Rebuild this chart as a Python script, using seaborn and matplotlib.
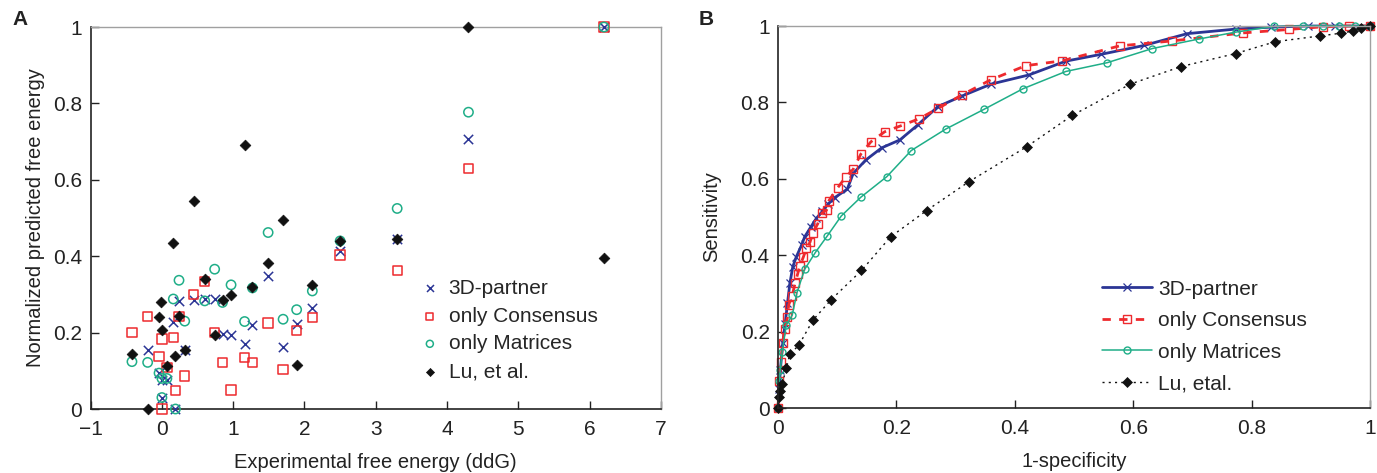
import matplotlib
matplotlib.use("Agg")
import matplotlib.pyplot as plt
import seaborn as sns
import pandas as pd

# ---- panel A: experimental vs normalized predicted free energy ----
partner_x = [-0.2, -0.04, 0.0, 0.0, 0.07, 0.15, 0.19, 0.24, 0.32, 0.45, 0.6, 0.74, 0.85, 0.97,
             1.16, 1.27, 1.49, 1.7, 1.89, 2.11, 2.5, 3.3, 4.3, 6.2]
partner_y = [0.154, 0.094, 0.075, 0.03, 0.075, 0.228, 0.0, 0.282, 0.154, 0.286, 0.287, 0.287, 0.196, 0.194,
             0.171, 0.22, 0.349, 0.163, 0.222, 0.264, 0.414, 0.444, 0.706, 1.0]

consensus_x = [-0.42, -0.2, -0.04, 0.0, 0.0, 0.07, 0.16, 0.19, 0.24, 0.32, 0.44, 0.6, 0.74, 0.85, 0.97,
               1.16, 1.27, 1.49, 1.7, 1.89, 2.11, 2.5, 3.3, 4.3, 6.2]
consensus_y = [0.2, 0.243, 0.138, 0.183, 0.0, 0.108, 0.187, 0.048, 0.243, 0.086, 0.3, 0.333, 0.2, 0.122, 0.05,
               0.134, 0.122, 0.225, 0.103, 0.206, 0.24, 0.403, 0.363, 0.629, 1.0]

matrices_x = [-0.42, -0.2, -0.04, 0.0, 0.0, 0.07, 0.16, 0.19, 0.24, 0.32, 0.6, 0.74, 0.85, 0.97,
              1.16, 1.27, 1.49, 1.7, 1.89, 2.11, 2.5, 3.3, 4.3, 6.2]
matrices_y = [0.124, 0.122, 0.094, 0.08, 0.03, 0.08, 0.288, 0.0, 0.337, 0.23, 0.283, 0.366, 0.279, 0.325,
              0.229, 0.317, 0.462, 0.235, 0.26, 0.309, 0.44, 0.525, 0.777, 1.0]

lu_x = [-0.42, -0.2, -0.04, -0.01, 0.0, 0.07, 0.16, 0.19, 0.24, 0.32, 0.45, 0.6, 0.74, 0.85, 0.97,
        1.16, 1.27, 1.49, 1.7, 1.89, 2.11, 2.5, 3.3, 4.3, 6.2]
lu_y = [0.143, 0.0, 0.24, 0.28, 0.208, 0.112, 0.435, 0.138, 0.243, 0.154, 0.545, 0.34, 0.195, 0.285, 0.298,
        0.692, 0.32, 0.383, 0.495, 0.115, 0.324, 0.44, 0.444, 1.0, 0.394]

# ---- panel B: ROC curves ----
roc_partner_x = [0, 0.002, 0.004, 0.008, 0.012, 0.016, 0.02, 0.025, 0.031, 0.04, 0.045, 0.055, 0.065,
                 0.075, 0.085, 0.096, 0.117, 0.127, 0.148, 0.175, 0.206, 0.236, 0.27, 0.311, 0.36,
                 0.424, 0.486, 0.546, 0.618, 0.691, 0.773, 0.833, 0.895, 0.94, 1.0]
roc_partner_y = [0, 0.05, 0.1, 0.17, 0.22, 0.274, 0.326, 0.37, 0.396, 0.427, 0.448, 0.473, 0.497,
                 0.515, 0.535, 0.551, 0.573, 0.614, 0.649, 0.681, 0.702, 0.741, 0.789, 0.817, 0.848,
                 0.872, 0.908, 0.926, 0.949, 0.98, 0.992, 0.997, 1.0, 1.0, 1.0]

roc_consensus_x = [0, 0.002, 0.005, 0.008, 0.011, 0.016, 0.018, 0.024, 0.029, 0.033, 0.037, 0.043, 0.048,
                   0.054, 0.059, 0.067, 0.074, 0.082, 0.086, 0.101, 0.114, 0.127, 0.14, 0.157, 0.18,
                   0.206, 0.238, 0.271, 0.31, 0.359, 0.418, 0.48, 0.577, 0.666, 0.786, 0.863, 0.92,
                   0.965, 1.0]
roc_consensus_y = [0, 0.07, 0.12, 0.17, 0.206, 0.237, 0.27, 0.294, 0.328, 0.35, 0.372, 0.396, 0.418,
                   0.434, 0.459, 0.482, 0.51, 0.518, 0.543, 0.577, 0.604, 0.625, 0.665, 0.697, 0.723,
                   0.738, 0.757, 0.785, 0.819, 0.859, 0.896, 0.909, 0.948, 0.961, 0.982, 0.991, 0.998,
                   1.0, 1.0]

roc_matrices_x = [0, 0.002, 0.004, 0.007, 0.014, 0.024, 0.032, 0.045, 0.063, 0.083, 0.107, 0.14, 0.184,
                  0.225, 0.283, 0.348, 0.414, 0.486, 0.556, 0.632, 0.711, 0.773, 0.837, 0.887, 0.92,
                  0.948, 0.975, 1.0]
roc_matrices_y = [0, 0.07, 0.1, 0.147, 0.217, 0.243, 0.302, 0.363, 0.407, 0.45, 0.503, 0.552, 0.606,
                  0.674, 0.73, 0.782, 0.836, 0.881, 0.904, 0.941, 0.966, 0.984, 0.999, 1.0, 1.0,
                  1.0, 1.0, 1.0]

roc_lu_x = [0, 0.002, 0.004, 0.007, 0.014, 0.02, 0.035, 0.059, 0.09, 0.141, 0.19, 0.251, 0.322, 0.42,
            0.497, 0.595, 0.681, 0.773, 0.84, 0.915, 0.95, 0.971, 0.985, 1.0]
roc_lu_y = [0, 0.03, 0.045, 0.063, 0.104, 0.141, 0.164, 0.23, 0.284, 0.36, 0.448, 0.517, 0.592, 0.684,
            0.766, 0.848, 0.894, 0.928, 0.959, 0.974, 0.981, 0.987, 0.996, 1.0]

BLUE = "#2b3595"
RED = "#ee2a2e"
GREEN = "#1fae88"
BLACK = "#111111"

sns.set_theme(style="ticks")
plt.rcParams["font.family"] = ["Liberation Sans", "DejaVu Sans"]
plt.rcParams["axes.unicode_minus"] = True

fig = plt.figure(figsize=(13.77, 4.73), dpi=100)
axA = fig.add_axes([0.0658, 0.1353, 0.4142, 0.8076])
axB = fig.add_axes([0.565, 0.1374, 0.430, 0.8076])

# panel A
sns.scatterplot(x=partner_x, y=partner_y, ax=axA, marker="x", color=BLUE, s=45,
                linewidth=1.1, label="3D-partner", clip_on=False, zorder=3)
sns.scatterplot(x=consensus_x, y=consensus_y, ax=axA, marker="s", facecolors="none",
                edgecolors=RED, s=45, linewidth=1.1, label="only Consensus", clip_on=False, zorder=3)
sns.scatterplot(x=matrices_x, y=matrices_y, ax=axA, marker="o", facecolors="none",
                edgecolors=GREEN, s=45, linewidth=1.1, label="only Matrices", clip_on=False, zorder=3)
sns.scatterplot(x=lu_x, y=lu_y, ax=axA, marker="D", color=BLACK, edgecolor=BLACK, s=30,
                linewidth=0.5, label="Lu, et al.", clip_on=False, zorder=4)

axA.set_xlim(-1, 7)
axA.set_ylim(0, 1)
axA.set_xticks(range(-1, 8))
axA.set_yticks([0, 0.2, 0.4, 0.6, 0.8, 1])
axA.set_yticklabels(["0", "0.2", "0.4", "0.6", "0.8", "1"])
axA.set_xlabel("Experimental free energy (ddG)", fontsize=14.5, labelpad=10)
axA.set_ylabel("Normalized predicted free energy", fontsize=14.5, labelpad=6)
axA.legend(loc="upper left", bbox_to_anchor=(0.54, 0.39), frameon=False, fontsize=15,
           handletextpad=0.3, labelspacing=0.42, handlelength=1.2, markerscale=0.75)

# panel B
sns.lineplot(x=roc_partner_x, y=roc_partner_y, ax=axB, sort=False, estimator=None, color=BLUE,
             linewidth=2.0, marker="x", markersize=6, mew=0.9, mec=BLUE,
             label="3D-partner", clip_on=False)
sns.lineplot(x=roc_consensus_x, y=roc_consensus_y, ax=axB, sort=False, estimator=None, color=RED,
             linewidth=2.0, linestyle=(0, (3, 3)), marker="s", markersize=6, mfc="none", mew=1.0,
             mec=RED, label="only Consensus", clip_on=False)
sns.lineplot(x=roc_matrices_x, y=roc_matrices_y, ax=axB, sort=False, estimator=None, color=GREEN,
             linewidth=1.1, marker="o", markersize=5, mfc="none", mew=1.0, mec=GREEN,
             label="only Matrices", clip_on=False)
sns.lineplot(x=roc_lu_x, y=roc_lu_y, ax=axB, sort=False, estimator=None, color=BLACK,
             linewidth=1.0, linestyle=(0, (1.5, 3)), marker="D", markersize=5, mew=0.5, mec=BLACK,
             label="Lu, etal.", clip_on=False)

axB.set_xlim(0, 1)
axB.set_ylim(0, 1)
axB.set_xticks([0, 0.2, 0.4, 0.6, 0.8, 1])
axB.set_xticklabels(["0", "0.2", "0.4", "0.6", "0.8", "1"])
axB.set_yticks([0, 0.2, 0.4, 0.6, 0.8, 1])
axB.set_yticklabels(["0", "0.2", "0.4", "0.6", "0.8", "1"])
axB.set_xlabel("1-specificity", fontsize=14.5, labelpad=10)
axB.set_ylabel("Sensitivity", fontsize=14.5, labelpad=14)
axB.legend(loc="upper left", bbox_to_anchor=(0.515, 0.385), frameon=False, fontsize=15,
           handletextpad=0.3, labelspacing=0.6, handlelength=2.4)

for ax in (axA, axB):
    ax.tick_params(direction="in", length=6, width=1, labelsize=15, pad=6, colors="#222222")
    ax.tick_params(axis="x", pad=8)
    for side in ("left", "bottom"):
        ax.spines[side].set_color("#222222")
        ax.spines[side].set_linewidth(1.2)
    for side in ("top", "right"):
        ax.spines[side].set_visible(True)
        ax.spines[side].set_color("#a0a0a0")
        ax.spines[side].set_linewidth(1.0)
    ax.xaxis.label.set_color("#222222")
    ax.yaxis.label.set_color("#222222")

fig.text(0.009, 0.948, "A", fontsize=15, fontweight="bold", color="#222222")
fig.text(0.507, 0.948, "B", fontsize=15, fontweight="bold", color="#222222")

fig.savefig("out.png", dpi=100)
